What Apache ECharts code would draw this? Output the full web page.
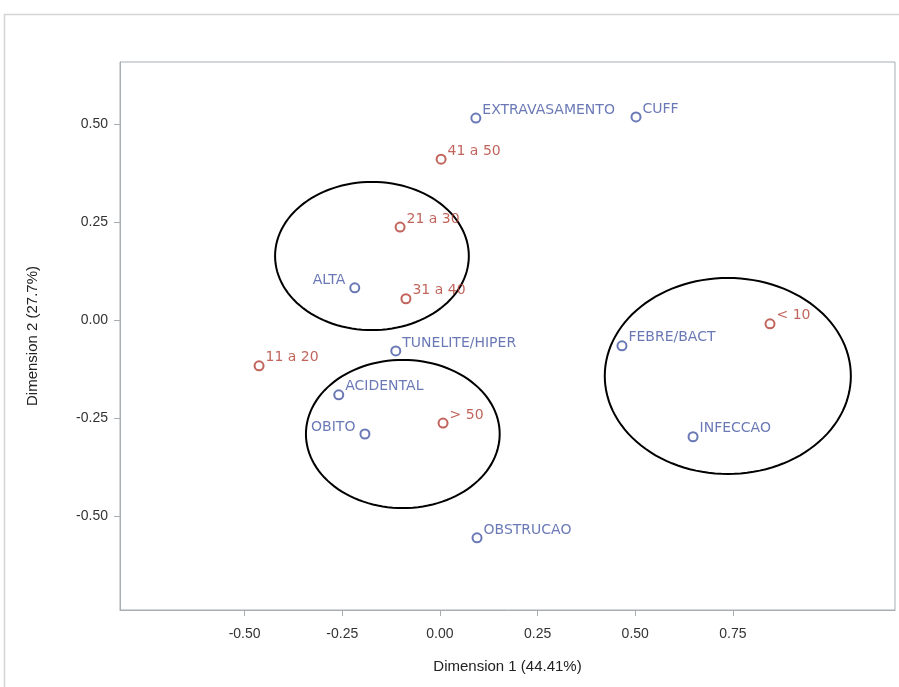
<!DOCTYPE html>
<html><head><meta charset="utf-8">
<script src="https://cdn.jsdelivr.net/npm/echarts@6/dist/echarts.min.js"></script>
<style>html,body{margin:0;padding:0;background:#fff}#c{width:899px;height:687px}</style>
</head><body><div id="c"></div>
<script>
// Row categories (blue) and column categories (red)
const rowNames = ["EXTRAVASAMENTO","CUFF","ALTA","TUNELITE/HIPER","ACIDENTAL","OBITO","OBSTRUCAO","FEBRE/BACT","INFECCAO"];
const rowDim1  = [0.092, 0.502, -0.218, -0.113, -0.259, -0.192, 0.095, 0.466, 0.648];
const rowDim2  = [0.515, 0.518, 0.082, -0.079, -0.191, -0.291, -0.556, -0.066, -0.298];
const colNames = ["41 a 50","21 a 30","31 a 40","11 a 20","> 50","< 10"];
const colDim1  = [0.003, -0.102, -0.087, -0.463, 0.008, 0.845];
const colDim2  = [0.410, 0.237, 0.054, -0.117, -0.263, -0.010];
const leftLabelled = ["ALTA","OBITO"];
// Highlight ellipses: center x, center y, radius x, radius y (data units)
const ellCx = [-0.174, -0.095, 0.737];
const ellCy = [0.163, -0.291, -0.143];
const ellRx = [0.248, 0.248, 0.315];
const ellRy = [0.189, 0.189, 0.250];
const xTicks = [-0.5, -0.25, 0, 0.25, 0.5, 0.75];
const yTicks = [-0.5, -0.25, 0, 0.25, 0.5];

const BLUE = '#4558a4', RED = '#b23d33';
function pts(names, xs, ys, color) {
  return names.map((n, i) => {
    const left = leftLabelled.includes(n);
    return {
      name: n, value: [xs[i], ys[i]],
      label: {
        show: true, formatter: n, color: color,
        fontFamily: 'DejaVu Sans', fontSize: 14,
        position: left ? 'left' : 'right',
        offset: left ? [0, -7] : [-3, -8], distance: 4
      }
    };
  });
}

const chart = echarts.init(document.getElementById('c'));
chart.setOption({
  animation: false,
  graphic: [{ type: 'rect', shape: { x: 4.5, y: 14.5, width: 1000, height: 1000 },
    style: { fill: 'none', stroke: '#d4d4d4', lineWidth: 1.5 }, z: -10 }],
  grid: { left: 120, top: 62, right: 4, bottom: 77, show: true, borderColor: '#a8adb2', borderWidth: 1 },
  xAxis: {
    type: 'value', min: -0.819, max: 1.165,
    name: 'Dimension 1 (44.41%)', nameLocation: 'middle', nameGap: 49,
    nameTextStyle: { fontFamily: 'Liberation Sans', fontSize: 15, color: '#222' },
    axisLine: { show: true, onZero: false, lineStyle: { color: '#a8adb2' } },
    axisTick: { show: true, length: 6, lineStyle: { color: '#a8adb2' }, customValues: xTicks },
    axisLabel: { customValues: xTicks, formatter: v => v.toFixed(2), fontFamily: 'Liberation Sans', fontSize: 14, color: '#333', margin: 17 },
    splitLine: { show: false }
  },
  yAxis: {
    type: 'value', min: -0.740, max: 0.658,
    name: 'Dimension 2 (27.7%)', nameLocation: 'middle', nameGap: 80, nameRotate: 90,
    nameTextStyle: { fontFamily: 'Liberation Sans', fontSize: 15, color: '#222' },
    axisLine: { show: true, onZero: false, lineStyle: { color: '#a8adb2' } },
    axisTick: { show: true, length: 6, lineStyle: { color: '#a8adb2' }, customValues: yTicks },
    axisLabel: { customValues: yTicks, formatter: v => v.toFixed(2), fontFamily: 'Liberation Sans', fontSize: 14, color: '#333', margin: 12 },
    splitLine: { show: false }
  },
  series: [
    {
      type: 'custom', silent: true, z: 1,
      data: ellCx.map((c, i) => [c, ellCy[i], ellRx[i], ellRy[i]]),
      renderItem: function (params, api) {
        const cx = api.value(0), cy = api.value(1), rx = api.value(2), ry = api.value(3);
        const p = [];
        for (let k = 0; k < 120; k++) {
          const t = k / 120 * Math.PI * 2;
          p.push(api.coord([cx + rx * Math.cos(t), cy + ry * Math.sin(t)]));
        }
        return { type: 'polygon', shape: { points: p }, style: { fill: 'none', stroke: '#000', lineWidth: 2 } };
      }
    },
    {
      type: 'scatter', symbol: 'emptyCircle', symbolSize: 9, z: 3,
      itemStyle: { color: BLUE, borderColor: BLUE, borderWidth: 1.5 },
      data: pts(rowNames, rowDim1, rowDim2, BLUE)
    },
    {
      type: 'scatter', symbol: 'emptyCircle', symbolSize: 9, z: 3,
      itemStyle: { color: RED, borderColor: RED, borderWidth: 1.5 },
      data: pts(colNames, colDim1, colDim2, RED)
    }
  ]
});
</script></body></html>
